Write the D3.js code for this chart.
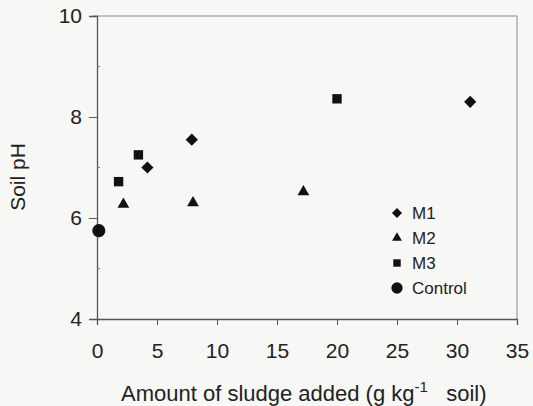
<!DOCTYPE html>
<html>
<head>
<meta charset="utf-8">
<script src="https://cdn.jsdelivr.net/npm/d3@7"></script>
<style>
  body { margin: 0; background: #f7f7f6; }
  svg { display: block; }
  svg text { font-family: "Liberation Sans", Arial, sans-serif; }
</style>
</head>
<body>
<svg id="chart" width="533" height="406"></svg>
<script>
// ── Data ─────────────────────────────────────────────────────────────────────
const seriesNames = ["M1", "M2", "M3", "Control"];
const m1 = [[4.2, 7.0], [7.9, 7.55], [31.1, 8.3]];
const m2 = [[2.2, 6.27], [8.0, 6.3], [17.2, 6.52]];
const m3 = [[1.8, 6.72], [3.45, 7.25], [20.0, 8.36]];
const control = [[0.15, 5.75]];
const xTicks = [0, 5, 10, 15, 20, 25, 30, 35];
const yTicks = [4, 6, 8, 10];

// ── Layout ───────────────────────────────────────────────────────────────────
const M = { left: 97, right: 16, top: 16, bottom: 87 };
const W = 533, H = 406;
const svg = d3.select("#chart");

const x = d3.scaleLinear().domain([0, 35]).range([M.left, W - M.right]);
const y = d3.scaleLinear().domain([4, 10]).range([H - M.bottom, M.top]);

const ink = "#222";

// frame (top + right)
svg.append("path")
  .attr("d", `M${x(0) - 4},${y(10)}H${x(35)}V${y(4)}`)
  .attr("fill", "none").attr("stroke", "#8a8a8a").attr("stroke-width", 1);

// axes
const xAxis = svg.append("g")
  .attr("transform", `translate(0,${y(4)})`)
  .call(d3.axisBottom(x).tickValues(xTicks).tickFormat(d3.format("d"))
    .tickSize(6).tickPadding(18));
const yAxis = svg.append("g")
  .attr("transform", `translate(${x(0)},0)`)
  .call(d3.axisLeft(y).tickValues(yTicks).tickFormat(d3.format("d"))
    .tickSize(8).tickPadding(7));

[xAxis, yAxis].forEach(g => {
  g.select(".domain").attr("stroke", "#555").attr("stroke-width", 1.3);
  g.selectAll(".tick line").attr("stroke", "#555");
  g.selectAll(".tick text").attr("fill", ink).attr("font-size", 21)
    .attr("font-family", "Liberation Sans, Arial, sans-serif");
});

// minor y ticks
svg.append("g").selectAll("line")
  .data([5, 7, 9]).join("line")
  .attr("x1", x(0)).attr("x2", x(0) + 3)
  .attr("y1", d => y(d)).attr("y2", d => y(d))
  .attr("stroke", "#777");

// axis titles
svg.append("text")
  .attr("transform", `translate(25,177) rotate(-90)`)
  .attr("text-anchor", "middle").attr("font-size", 21).attr("fill", ink)
  .text("Soil pH");

const xt = svg.append("text")
  .attr("x", 121).attr("y", 401)
  .attr("text-anchor", "start").attr("font-size", 22).attr("fill", ink);
xt.append("tspan").text("Amount of sludge added (g kg");
xt.append("tspan").attr("dy", -9).attr("font-size", 15).text("-1");
xt.append("tspan").attr("dy", 9).text("\u00a0\u00a0 soil)");

// ── Markers ──────────────────────────────────────────────────────────────────
const shapes = {
  M1: d3.symbol().type(d3.symbolDiamond2).size(95),
  M2: d3.symbol().type(d3.symbolTriangle).size(60),
  M3: d3.symbol().type(d3.symbolSquare).size(88),
  Control: d3.symbol().type(d3.symbolCircle).size(135)
};
const seriesData = { M1: m1, M2: m2, M3: m3, Control: control };

seriesNames.forEach(name => {
  svg.append("g").selectAll("path")
    .data(seriesData[name]).join("path")
    .attr("transform", d => `translate(${x(d[0])},${y(d[1])})`)
    .attr("d", shapes[name]())
    .attr("fill", "#111");
});

// ── Legend ───────────────────────────────────────────────────────────────────
const legendSymbols = {
  M1: d3.symbol().type(d3.symbolDiamond2).size(65),
  M2: d3.symbol().type(d3.symbolTriangle).size(42),
  M3: d3.symbol().type(d3.symbolSquare).size(55),
  Control: d3.symbol().type(d3.symbolCircle).size(100)
};
const lg = svg.append("g").attr("transform", "translate(397,213)");
seriesNames.forEach((name, i) => {
  const row = lg.append("g").attr("transform", `translate(0,${i * 25})`);
  row.append("path").attr("d", legendSymbols[name]()).attr("fill", "#111");
  row.append("text").attr("x", 15).attr("y", 6)
    .attr("font-size", 17).attr("fill", ink).text(name);
});
</script>
</body>
</html>
